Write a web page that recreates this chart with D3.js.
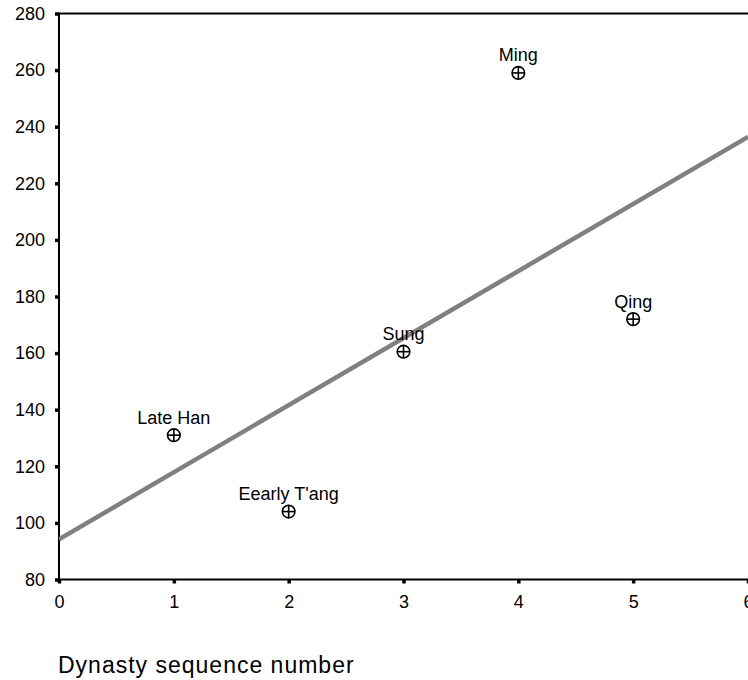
<!DOCTYPE html>
<html>
<head>
<meta charset="utf-8">
<script src="https://cdn.jsdelivr.net/npm/d3@7"></script>
<style>
  html, body { margin: 0; padding: 0; background: #fff; }
  svg { display: block; font-family: "Liberation Sans", Arial, sans-serif; }
</style>
</head>
<body>
<svg id="chart" width="748" height="680"></svg>
<script>
// Dynasty scatter with a least-squares trend line
const dynasties = ["Late Han", "Eearly T'ang", "Sung", "Ming", "Qing"];
const sequence  = [1, 2, 3, 4, 5];
const values    = [131, 104, 160.5, 259, 172];
const xTicks    = [0, 1, 2, 3, 4, 5, 6];
const yTicks    = [80, 100, 120, 140, 160, 180, 200, 220, 240, 260, 280];
const xTitle    = "Dynasty sequence number";

const svg = d3.select("#chart");
const plotLeft = 59, plotRight = 748, plotTop = 13.5, plotBottom = 579.5;

const x = d3.scaleLinear().domain([0, 6]).range([plotLeft, plotRight]);
const y = d3.scaleLinear().domain([80, 280]).range([plotBottom, plotTop]);

// least-squares fit of value on sequence number
const mx = d3.mean(sequence), my = d3.mean(values);
const sxy = d3.sum(sequence, (s, i) => (s - mx) * (values[i] - my));
const sxx = d3.sum(sequence, s => (s - mx) * (s - mx));
const slope = sxy / sxx, intercept = my - slope * mx;

// plot frame
svg.append("rect")
  .attr("x", plotLeft).attr("y", plotTop)
  .attr("width", plotRight - plotLeft + 2).attr("height", plotBottom - plotTop)
  .attr("fill", "none").attr("stroke", "#000").attr("stroke-width", 2);

// axes with small square tick marks
const fmt = d3.format("d");
const yAxis = svg.append("g")
  .attr("transform", `translate(${plotLeft},0)`)
  .call(d3.axisLeft(y).tickValues(yTicks).tickFormat(fmt).tickSize(4).tickPadding(10));
const xAxis = svg.append("g")
  .attr("transform", `translate(0,${plotBottom})`)
  .call(d3.axisBottom(x).tickValues(xTicks).tickFormat(fmt).tickSize(4).tickPadding(11.5));

[yAxis, xAxis].forEach(g => {
  g.select(".domain").remove();
  g.selectAll(".tick line").attr("stroke", "#000").attr("stroke-width", 3.5);
  g.selectAll(".tick text")
    .attr("fill", "#000")
    .style("font-size", "18px")
    .style("font-family", "'Liberation Sans', Arial, sans-serif");
});

// clip for the trend line
svg.append("clipPath").attr("id", "plotClip")
  .append("rect").attr("x", plotLeft).attr("y", plotTop)
  .attr("width", plotRight - plotLeft + 2).attr("height", plotBottom - plotTop);

svg.append("line")
  .attr("clip-path", "url(#plotClip)")
  .attr("x1", x(0)).attr("y1", y(intercept))
  .attr("x2", x(6)).attr("y2", y(intercept + slope * 6))
  .attr("stroke", "#808080").attr("stroke-width", 4.5);

// markers: circle with a cross
const pts = sequence.map((s, i) => ({ s, v: values[i], name: dynasties[i] }));
const g = svg.append("g").selectAll("g").data(pts).join("g")
  .attr("transform", d => `translate(${x(d.s)},${y(d.v)})`);

const r = 6.3;
g.append("circle").attr("r", r)
  .attr("fill", "#fff").attr("stroke", "#000").attr("stroke-width", 1.6);
g.append("line").attr("x1", -r).attr("x2", r).attr("y1", 0).attr("y2", 0)
  .attr("stroke", "#000").attr("stroke-width", 1.6);
g.append("line").attr("y1", -r).attr("y2", r).attr("x1", 0).attr("x2", 0)
  .attr("stroke", "#000").attr("stroke-width", 1.6);

g.append("text")
  .attr("text-anchor", "middle")
  .attr("y", -11.5)
  .style("font-size", "18px")
  .attr("fill", "#000")
  .text(d => d.name);

// x-axis title
svg.append("text")
  .attr("x", 58).attr("y", 673)
  .style("font-size", "23px")
  .style("letter-spacing", "1px")
  .attr("fill", "#000")
  .text(xTitle);
</script>
</body>
</html>
